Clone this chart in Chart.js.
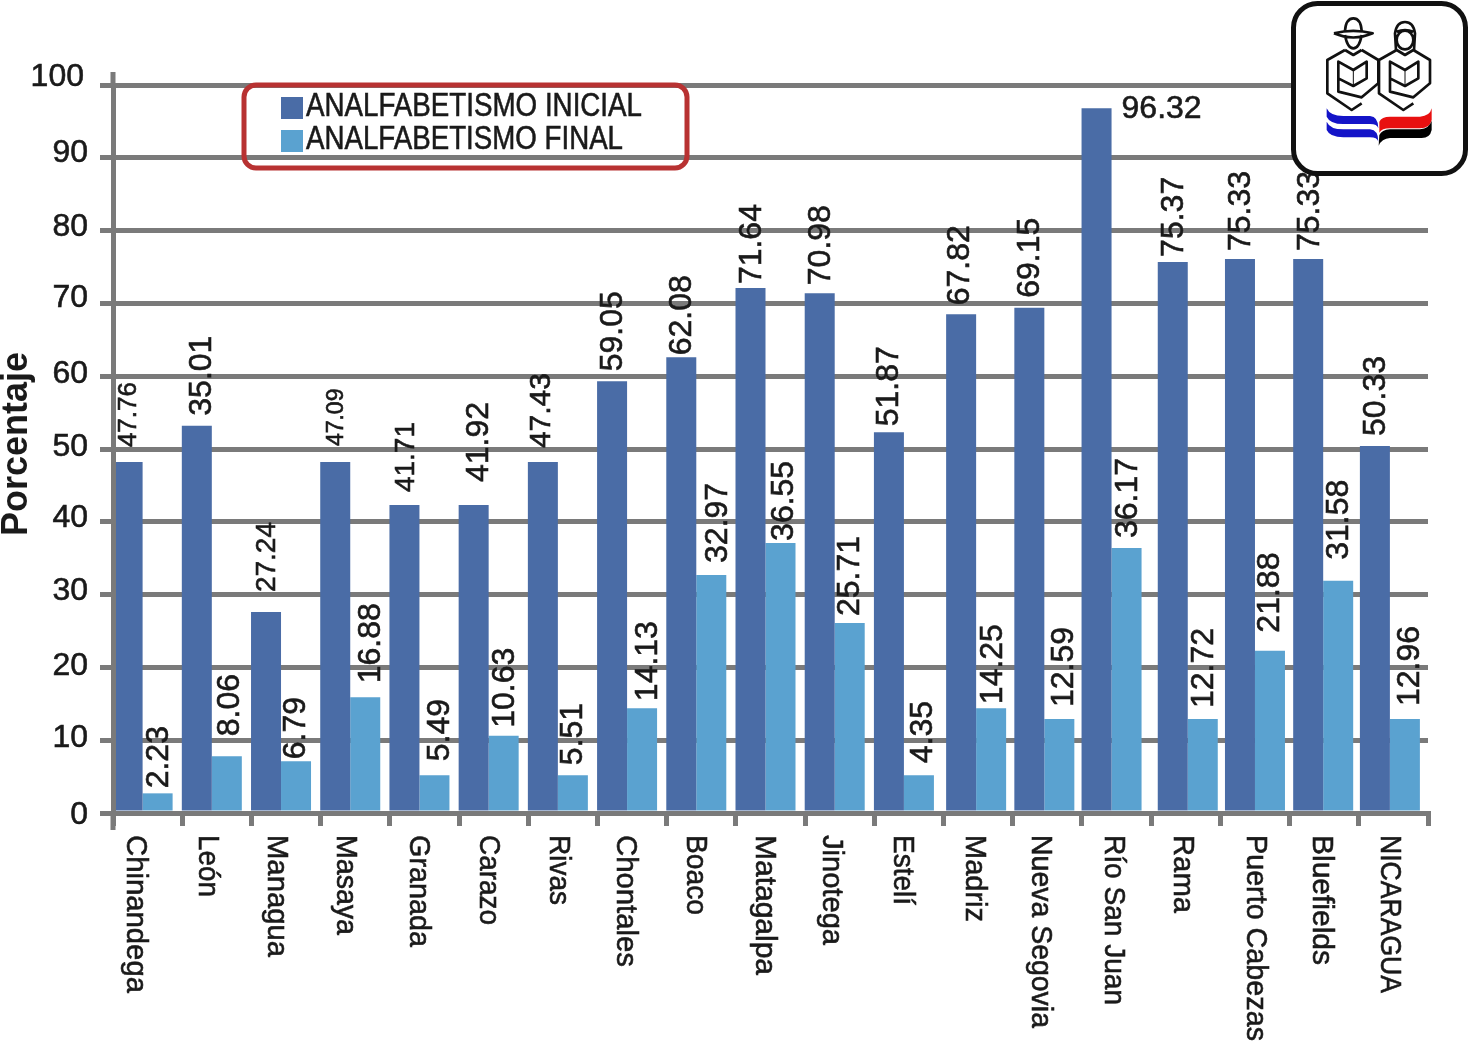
<!DOCTYPE html>
<html>
<head>
<meta charset="utf-8">
<title>Analfabetismo</title>
<script src="https://cdn.jsdelivr.net/npm/chart.js@4"></script>
<style>
  html, body { margin: 0; padding: 0; background: #fff; }
  canvas { display: block; }
</style>
</head>
<body>
<canvas id="chart" width="1469" height="1043"></canvas>
<script>
const categories = ["Chinandega", "León", "Managua", "Masaya", "Granada", "Carazo", "Rivas", "Chontales", "Boaco", "Matagalpa", "Jinotega", "Estelí", "Madriz", "Nueva Segovia", "Río San Juan", "Rama", "Puerto Cabezas", "Bluefields", "NICARAGUA"];

// bar heights as drawn in the picture (they do not always agree with the printed labels)
const inicialValues = [48.2, 53.2, 27.6, 48.2, 42.3, 42.3, 48.2, 59.3, 62.6, 72.1, 71.4, 52.3, 68.5, 69.4, 96.8, 75.7, 76.1, 76.1, 50.4];
const finalValues = [2.7, 7.8, 7.1, 15.9, 5.2, 10.6, 5.2, 14.4, 32.7, 37.1, 26.1, 5.2, 14.4, 12.9, 36.4, 12.9, 22.3, 31.9, 12.9];

// printed labels
const inicialLabels = ["47.76", "35.01", "27.24", "47.09", "41.71", "41.92", "47.43", "59.05", "62.08", "71.64", "70.98", "51.87", "67.82", "69.15", "96.32", "75.37", "75.33", "75.33", "50.33"];
const finalLabels = ["2.23", "8.06", "6.79", "16.88", "5.49", "10.63", "5.51", "14.13", "32.97", "36.55", "25.71", "4.35", "14.25", "12.59", "36.17", "12.72", "21.88", "31.58", "12.96"];

// hand placement, the original chart is not regular
const groupNudge = [0, 0, 0, 0, 0, 0, 0, 0, 0, 0, 0, 0, 3, 2, 0, 7, 5, 4, 1.5];
const inicialDx = [0, 4, 0, 0, 0, 4, -3, 0, -1, 0, 0, -1, -2, -1, 0, 0, 0, 0, -0.5];
const inicialGap = [15, 10, 20, 16, 13, 23, 14, 10, 2, 4, 8, 6, 9, 10, 0, 5, 8, 8, 10];
const inicialSize = [26, 32, 28, 23, 28, 32, 30, 32, 32, 32, 32, 32, 32, 32, 32, 32, 32, 32, 32];
const finalDx = [0, 2, -1, 4, 4, 0, -1, 5, 5, 2, -1, 3, 1, 3, 0, 0, -1, -1, 3.5];
const finalGap = [5, 20, 2, 14, 14, 8, 10, 7, 12, 2, 7, 12, 4, 12, 10, 11, 18, 21, 13];
const categoryDx = [-7, -5, -5, -5, -1, 0, 0, -2, -1, -1, -3, -2, 1, -2, 2, 2, 5, 2, 1];
const categoryLength = [158, 62, 122, 100, 112, 90, 70, 132, 80, 140, 110, 70, 87, 193, 170, 78, 206, 130, 158];
const yLabelDy = [2, -2, -1, -3, -4, -2, -2, -5, -3, -5, -8];

const gray = "#7a7a7a";
const ink = "#1a1a1a";
const fontName = '"Liberation Sans", Arial, sans-serif';
const barShift = -5;

// the original type is a little heavier than the regular face
function heavyText(ctx, text, x, y, maxWidth) {
    ctx.fillStyle = ink;
    ctx.strokeStyle = ink;
    ctx.lineWidth = 0.6;
    ctx.fillText(text, x, y, maxWidth);
    ctx.strokeText(text, x, y, maxWidth);
}

function rotatedText(ctx, text, x, y, angle, size, maxWidth) {
    ctx.save();
    ctx.translate(x, y);
    ctx.rotate(angle);
    ctx.font = size + "px " + fontName;
    ctx.textBaseline = "middle";
    ctx.textAlign = "left";
    heavyText(ctx, text, 0, 0, maxWidth);
    ctx.restore();
}

function drawBarLabels(chart) {
    const ctx = chart.ctx;
    const blue = chart.getDatasetMeta(0).data;
    const light = chart.getDatasetMeta(1).data;
    categories.forEach((c, i) => {
        if (i === 14) {
            // the tallest bar has its label lying flat next to it
            rotatedText(ctx, inicialLabels[i], blue[i].x + barShift + 25, blue[i].y + 1, 0, 32);
        } else {
            rotatedText(ctx, inicialLabels[i], blue[i].x + barShift + 1.5 + inicialDx[i], blue[i].y - inicialGap[i], -Math.PI / 2, inicialSize[i]);
        }
        rotatedText(ctx, finalLabels[i], light[i].x + barShift + 1.5 + finalDx[i], light[i].y - finalGap[i], -Math.PI / 2, 32);
    });
}

function drawAxisText(chart) {
    const ctx = chart.ctx;
    const x = chart.scales.x;
    const y = chart.scales.y;

    // y axis runs past both ends
    ctx.fillStyle = gray;
    ctx.fillRect(x.left - 2.5, 72, 5, y.top - 72);
    ctx.fillRect(x.left - 2.5, y.bottom, 5, 17);

    categories.forEach((c, i) => {
        rotatedText(ctx, c, x.getPixelForTick(i) + barShift + categoryDx[i], 835, Math.PI / 2, 30, categoryLength[i]);
    });

    ctx.save();
    ctx.font = "32px " + fontName;
    ctx.textAlign = "right";
    ctx.textBaseline = "middle";
    y.ticks.forEach((t, i) => {
        heavyText(ctx, String(t.value), t.value === 100 ? 84 : 88, y.getPixelForValue(t.value) + yLabelDy[i]);
    });
    ctx.restore();

    ctx.save();
    ctx.translate(17, 444);
    ctx.rotate(-Math.PI / 2);
    ctx.font = "bold 36px " + fontName;
    ctx.fillStyle = ink;
    ctx.textAlign = "center";
    ctx.textBaseline = "middle";
    ctx.fillText("Porcentaje", 0, 0);
    ctx.restore();
}

function drawLegendBox(chart) {
    const ctx = chart.ctx;
    ctx.save();
    ctx.strokeStyle = "#b83232";
    ctx.lineWidth = 5;
    ctx.beginPath();
    ctx.roundRect(244, 85, 443, 83, 12);
    ctx.stroke();
    const widths = [336, 317];
    chart.data.datasets.forEach((s, i) => {
        const top = 97 + i * 33;
        ctx.fillStyle = s.backgroundColor;
        ctx.fillRect(281, top, 22, 22);
        ctx.font = "33px " + fontName;
        ctx.textAlign = "left";
        ctx.textBaseline = "middle";
        heavyText(ctx, s.label, 306, top + 9.5, widths[i]);
    });
    ctx.restore();
}

function drawPerson(ctx, dx) {
    ctx.save();
    ctx.translate(dx, 0);
    ctx.beginPath();
    ctx.moveTo(285, 150); ctx.lineTo(232, 180); ctx.lineTo(232, 280); ctx.lineTo(305, 330); ctx.lineTo(335, 310);
    ctx.moveTo(335, 150); ctx.lineTo(385, 180); ctx.lineTo(385, 250); ctx.lineTo(335, 292); ctx.lineTo(265, 275); ctx.lineTo(265, 185);
    ctx.lineTo(310, 210); ctx.lineTo(350, 185); ctx.lineTo(350, 235); ctx.lineTo(310, 258); ctx.lineTo(265, 235);
    ctx.moveTo(285, 150); ctx.lineTo(310, 165); ctx.lineTo(335, 150);
    ctx.stroke();
    ctx.lineWidth = 3;
    ctx.beginPath();
    ctx.moveTo(310, 210); ctx.lineTo(310, 258);
    ctx.stroke();
    ctx.restore();
}

function drawLogo(chart) {
    const ctx = chart.ctx;
    ctx.save();
    ctx.fillStyle = "#fff";
    ctx.strokeStyle = "#111";
    ctx.lineWidth = 5;
    ctx.beginPath();
    ctx.roundRect(1293.5, 3.5, 172, 170, 24);
    ctx.fill();
    ctx.stroke();

    // logo coordinates are taken from a 3x crop whose corner is at x=1250
    ctx.translate(1250, 0);
    ctx.scale(1 / 3, 1 / 3);
    ctx.lineWidth = 8;
    ctx.lineJoin = "round";
    drawPerson(ctx, 0);
    drawPerson(ctx, 155);

    // hat and face
    ctx.beginPath();
    ctx.moveTo(285, 105);
    ctx.quadraticCurveTo(292, 145, 310, 145);
    ctx.quadraticCurveTo(328, 145, 335, 105);
    ctx.moveTo(252, 100);
    ctx.quadraticCurveTo(310, 125, 368, 100);
    ctx.quadraticCurveTo(310, 85, 252, 100);
    ctx.moveTo(285, 92);
    ctx.quadraticCurveTo(288, 55, 310, 55);
    ctx.quadraticCurveTo(332, 55, 335, 92);
    ctx.stroke();

    // hair and face
    ctx.beginPath();
    ctx.moveTo(438, 150);
    ctx.lineTo(435, 100);
    ctx.quadraticCurveTo(440, 66, 465, 66);
    ctx.quadraticCurveTo(490, 66, 495, 100);
    ctx.lineTo(492, 150);
    ctx.moveTo(490, 120);
    ctx.ellipse(465, 120, 25, 28, 0, 0, Math.PI * 2);
    ctx.moveTo(440, 95);
    ctx.quadraticCurveTo(465, 85, 490, 95);
    ctx.stroke();

    ctx.fillStyle = "#1414c8";
    [0, 40].forEach(d => {
        ctx.beginPath();
        ctx.moveTo(230, 325 + d);
        ctx.quadraticCurveTo(240, 348 + d, 280, 348 + d);
        ctx.lineTo(360, 348 + d);
        ctx.quadraticCurveTo(385, 350 + d, 385, 385 + d);
        ctx.quadraticCurveTo(382, 372 + d, 360, 372 + d);
        ctx.lineTo(280, 372 + d);
        ctx.quadraticCurveTo(240, 372 + d, 230, 350 + d);
        ctx.closePath();
        ctx.fill();
    });

    ctx.fillStyle = "#e81010";
    ctx.beginPath();
    ctx.moveTo(388, 365);
    ctx.quadraticCurveTo(395, 350, 420, 350);
    ctx.lineTo(510, 350);
    ctx.quadraticCurveTo(540, 348, 545, 325);
    ctx.lineTo(545, 360);
    ctx.quadraticCurveTo(540, 385, 510, 385);
    ctx.lineTo(420, 385);
    ctx.quadraticCurveTo(395, 385, 388, 398);
    ctx.closePath();
    ctx.fill();

    ctx.fillStyle = "#000";
    ctx.beginPath();
    ctx.moveTo(388, 405);
    ctx.quadraticCurveTo(395, 390, 420, 388);
    ctx.lineTo(510, 388);
    ctx.quadraticCurveTo(538, 385, 545, 362);
    ctx.lineTo(545, 390);
    ctx.quadraticCurveTo(540, 414, 515, 414);
    ctx.lineTo(420, 414);
    ctx.quadraticCurveTo(395, 416, 386, 437);
    ctx.closePath();
    ctx.fill();
    ctx.restore();
}

const decorations = {
    id: "decorations",
    afterDatasetsUpdate(chart) {
        chart.data.datasets.forEach((s, d) => {
            chart.getDatasetMeta(d).data.forEach((bar, i) => {
                bar.x += groupNudge[i];
            });
        });
    },
    beforeDatasetsDraw(chart) {
        chart.ctx.save();
        chart.ctx.translate(barShift, 0);
    },
    afterDatasetsDraw(chart) {
        chart.ctx.restore();
    },
    afterDraw(chart) {
        drawBarLabels(chart);
        drawAxisText(chart);
        drawLegendBox(chart);
        drawLogo(chart);
    },
};

new Chart(document.getElementById("chart").getContext("2d"), {
    type: "bar",
    data: {
        labels: categories,
        datasets: [
            {
                label: "ANALFABETISMO INICIAL",
                data: inicialValues,
                backgroundColor: "#4a6ca6",
            },
            {
                label: "ANALFABETISMO FINAL",
                data: finalValues,
                backgroundColor: "#5aa2d0",
            },
        ],
    },
    options: {
        responsive: false,
        animation: false,
        layout: { padding: { top: 85, right: 41, left: 0, bottom: 0 } },
        datasets: {
            bar: { categoryPercentage: 0.867, barPercentage: 1, borderWidth: 0 },
        },
        plugins: {
            legend: { display: false },
            tooltip: { enabled: false },
        },
        scales: {
            x: {
                afterFit(scale) { scale.height = 230; },
                border: { color: gray, width: 5 },
                grid: { drawOnChartArea: false, color: gray, lineWidth: 5, tickLength: 13 },
                ticks: { display: false, autoSkip: false },
            },
            y: {
                min: 0,
                max: 100,
                afterFit(scale) { scale.width = 113; },
                border: { color: gray, width: 5, z: 1 },
                grid: { color: gray, lineWidth: 5, tickLength: 13 },
                ticks: { display: false, stepSize: 10 },
            },
        },
    },
    plugins: [decorations],
});
</script>
</body>
</html>
